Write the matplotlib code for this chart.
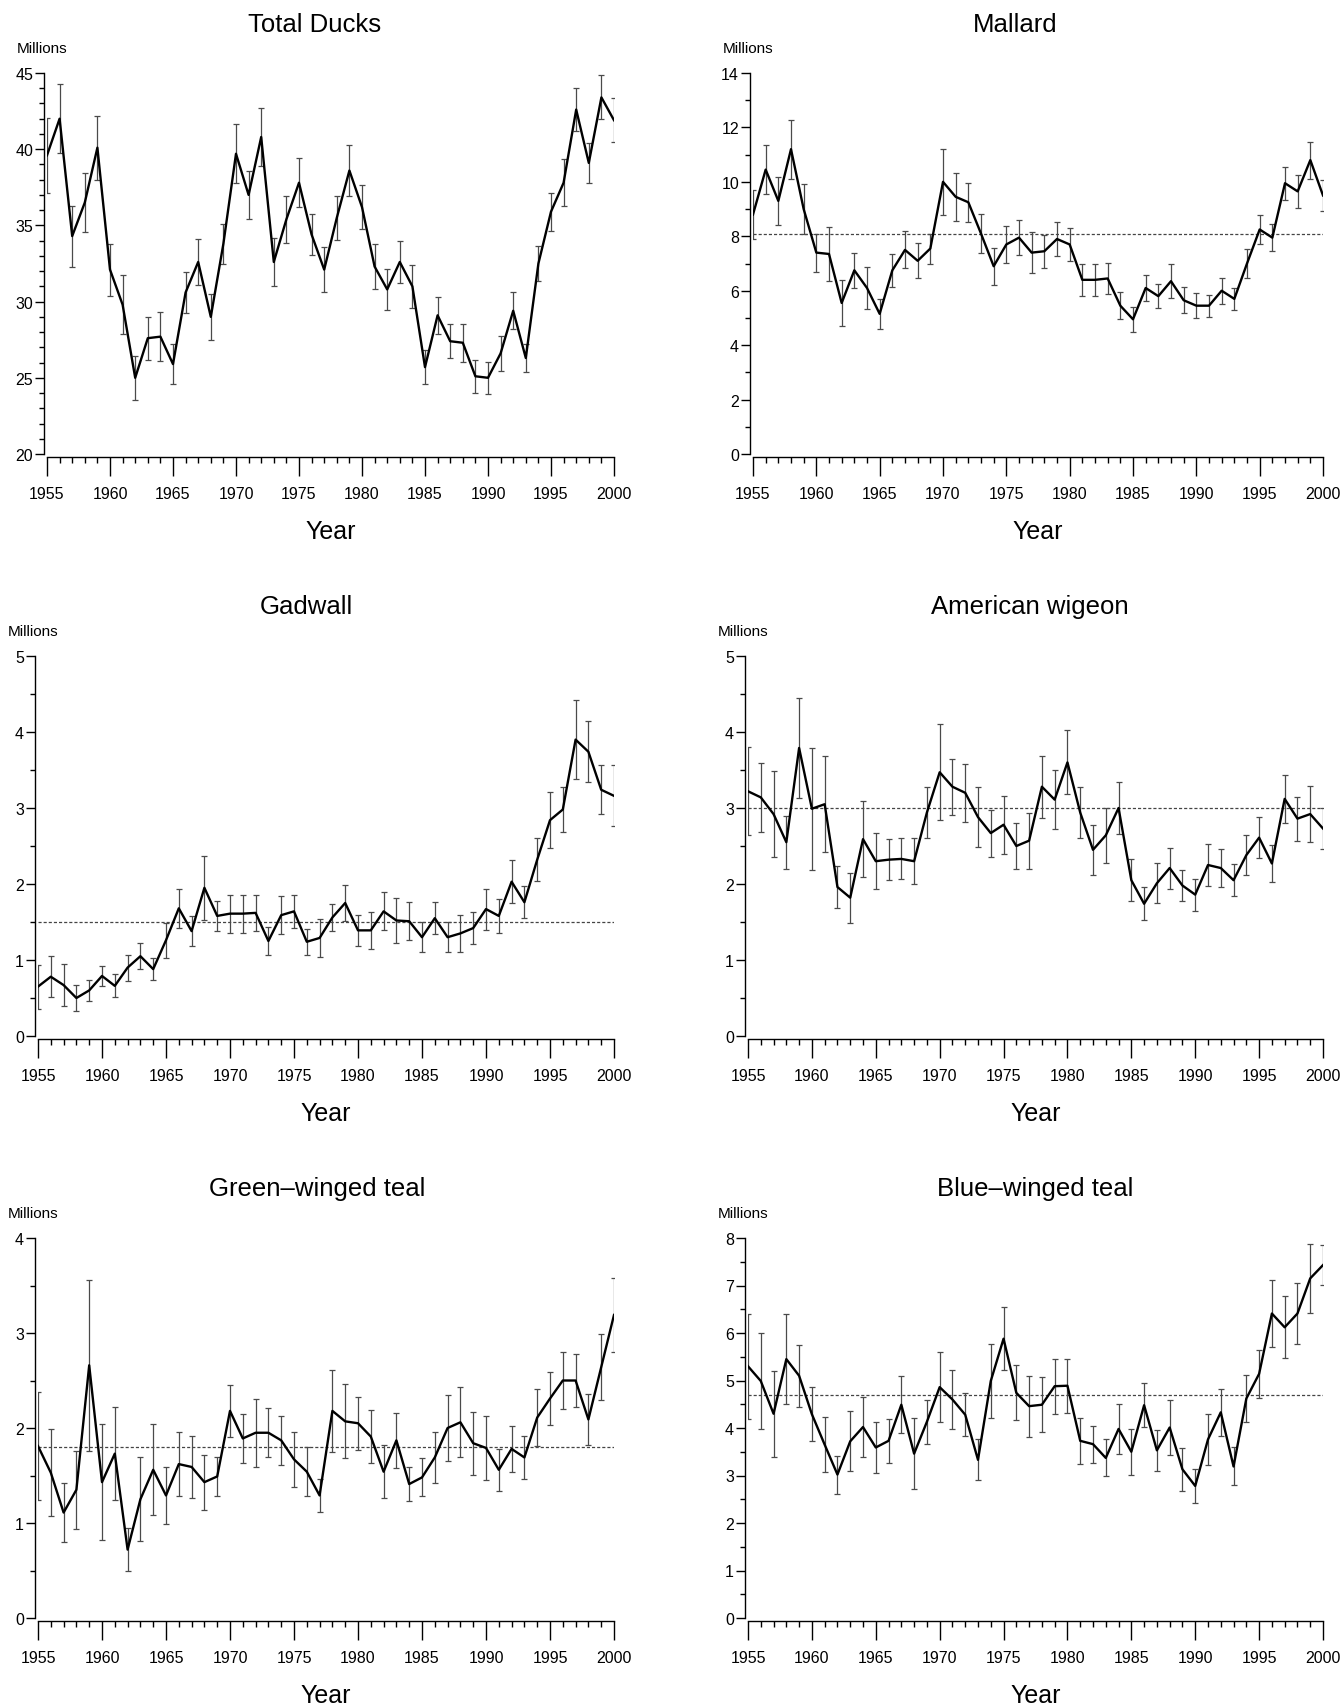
import numpy as np
import matplotlib
matplotlib.use('agg')
import matplotlib.pyplot as plt
from matplotlib.ticker import MultipleLocator

plt.rcParams['font.family'] = ['Liberation Sans Narrow', 'Liberation Sans', 'DejaVu Sans']

years = np.arange(1955, 2001)

########## breeding population estimates (millions)
total = [39.6, 42.0, 34.3, 36.5, 40.1, 32.1, 29.8, 25.0, 27.6, 27.7,
         25.9, 30.6, 32.6, 29.0, 33.8, 39.7, 37.0, 40.8, 32.6, 35.4,
         37.8, 34.4, 32.1, 35.5, 38.6, 36.2, 32.3, 30.8, 32.6, 31.0,
         25.7, 29.1, 27.4, 27.3, 25.1, 25.0, 26.6, 29.4, 26.3, 32.5,
         35.9, 37.8, 42.6, 39.1, 43.4, 41.9]
total_err = [2.45, 2.25, 2.0, 1.95, 2.1, 1.7, 1.95, 1.45, 1.4, 1.6,
             1.3, 1.35, 1.5, 1.5, 1.3, 1.95, 1.6, 1.9, 1.6, 1.55,
             1.6, 1.35, 1.45, 1.45, 1.65, 1.45, 1.45, 1.35, 1.4, 1.4,
             1.1, 1.2, 1.1, 1.25, 1.1, 1.05, 1.15, 1.2, 0.95, 1.15,
             1.25, 1.55, 1.4, 1.3, 1.45, 1.45]

mallard = [8.8, 10.45, 9.3, 11.2, 9.0, 7.4, 7.35, 5.55, 6.75, 6.1,
           5.15, 6.75, 7.5, 7.1, 7.55, 10.0, 9.45, 9.25, 8.1, 6.9,
           7.7, 7.95, 7.4, 7.45, 7.9, 7.7, 6.4, 6.4, 6.45, 5.45,
           4.95, 6.1, 5.8, 6.35, 5.65, 5.45, 5.45, 6.0, 5.7, 7.0,
           8.25, 7.95, 9.95, 9.65, 10.8, 9.5]
mallard_err = [0.9, 0.9, 0.88, 1.08, 0.92, 0.7, 1.0, 0.85, 0.65, 0.77,
               0.55, 0.6, 0.68, 0.65, 0.55, 1.2, 0.88, 0.72, 0.72, 0.68,
               0.68, 0.65, 0.75, 0.6, 0.62, 0.6, 0.6, 0.6, 0.57, 0.5,
               0.45, 0.48, 0.43, 0.62, 0.48, 0.45, 0.4, 0.48, 0.4, 0.55,
               0.55, 0.5, 0.6, 0.6, 0.68, 0.58]
mallard_avg = 8.1

gadwall = [0.65, 0.78, 0.67, 0.5, 0.6, 0.79, 0.66, 0.9, 1.05, 0.88,
           1.26, 1.68, 1.38, 1.95, 1.58, 1.61, 1.61, 1.62, 1.25, 1.59,
           1.64, 1.24, 1.29, 1.56, 1.75, 1.39, 1.39, 1.64, 1.52, 1.51,
           1.3, 1.55, 1.3, 1.35, 1.42, 1.67, 1.58, 2.03, 1.76, 2.32,
           2.84, 2.98, 3.9, 3.74, 3.24, 3.16]
gadwall_err = [0.29, 0.27, 0.28, 0.17, 0.14, 0.13, 0.15, 0.17, 0.17, 0.14,
               0.23, 0.26, 0.2, 0.42, 0.2, 0.25, 0.25, 0.24, 0.18, 0.25,
               0.22, 0.17, 0.25, 0.18, 0.24, 0.2, 0.24, 0.25, 0.29, 0.25,
               0.2, 0.21, 0.2, 0.24, 0.21, 0.27, 0.22, 0.28, 0.21, 0.28,
               0.37, 0.3, 0.52, 0.4, 0.32, 0.4]
gadwall_avg = 1.5

wigeon = [3.22, 3.14, 2.92, 2.55, 3.79, 2.99, 3.05, 1.96, 1.82, 2.59,
          2.3, 2.32, 2.33, 2.3, 2.94, 3.47, 3.28, 3.2, 2.88, 2.67,
          2.78, 2.5, 2.57, 3.28, 3.11, 3.6, 2.94, 2.45, 2.64, 3.0,
          2.05, 1.74, 2.01, 2.21, 1.98, 1.86, 2.25, 2.21, 2.05, 2.38,
          2.61, 2.27, 3.12, 2.86, 2.92, 2.73]
wigeon_err = [0.58, 0.45, 0.57, 0.35, 0.66, 0.8, 0.63, 0.28, 0.33, 0.5,
              0.37, 0.27, 0.27, 0.3, 0.33, 0.63, 0.37, 0.38, 0.39, 0.31,
              0.38, 0.3, 0.37, 0.41, 0.39, 0.42, 0.34, 0.33, 0.36, 0.34,
              0.28, 0.22, 0.26, 0.27, 0.21, 0.21, 0.27, 0.25, 0.21, 0.26,
              0.27, 0.24, 0.32, 0.29, 0.37, 0.27]
wigeon_avg = 3.0

gw_teal = [1.81, 1.53, 1.11, 1.35, 2.66, 1.43, 1.73, 0.72, 1.25, 1.56,
           1.29, 1.62, 1.59, 1.43, 1.49, 2.18, 1.89, 1.95, 1.95, 1.87,
           1.67, 1.54, 1.29, 2.18, 2.07, 2.05, 1.91, 1.54, 1.87, 1.41,
           1.48, 1.69, 2.0, 2.06, 1.84, 1.79, 1.56, 1.78, 1.69, 2.11,
           2.31, 2.5, 2.5, 2.09, 2.64, 3.19]
gw_teal_err = [0.57, 0.46, 0.31, 0.41, 0.9, 0.61, 0.49, 0.23, 0.44, 0.48,
               0.3, 0.34, 0.33, 0.29, 0.21, 0.27, 0.26, 0.36, 0.26, 0.26,
               0.29, 0.26, 0.17, 0.43, 0.39, 0.28, 0.28, 0.28, 0.29, 0.18,
               0.2, 0.27, 0.35, 0.37, 0.33, 0.34, 0.22, 0.24, 0.23, 0.3,
               0.28, 0.3, 0.28, 0.27, 0.35, 0.39]
gw_teal_avg = 1.8

bw_teal = [5.3, 4.99, 4.3, 5.45, 5.1, 4.29, 3.65, 3.02, 3.72, 4.02,
           3.59, 3.73, 4.49, 3.46, 4.13, 4.86, 4.6, 4.28, 3.33, 4.99,
           5.88, 4.74, 4.46, 4.49, 4.88, 4.89, 3.73, 3.66, 3.37, 3.98,
           3.5, 4.48, 3.53, 4.01, 3.13, 2.78, 3.76, 4.33, 3.19, 4.62,
           5.14, 6.41, 6.12, 6.41, 7.15, 7.43]
bw_teal_err = [1.1, 1.02, 0.91, 0.95, 0.65, 0.57, 0.58, 0.4, 0.63, 0.63,
               0.53, 0.46, 0.6, 0.75, 0.46, 0.73, 0.63, 0.45, 0.43, 0.77,
               0.66, 0.58, 0.64, 0.58, 0.58, 0.57, 0.48, 0.39, 0.39, 0.52,
               0.48, 0.46, 0.43, 0.57, 0.45, 0.35, 0.53, 0.5, 0.4, 0.5,
               0.5, 0.7, 0.65, 0.65, 0.72, 0.42]
bw_teal_avg = 4.7

#########################################################################

W, H = 1343, 1708
fig = plt.figure(figsize=(W / 100, H / 100), dpi=100)
fig.patch.set_facecolor('white')

# title, values, errors, average, ylim, major, minor, (left, right, top, bottom) px, title centre px
panels = [
    ('Total Ducks', total, total_err, None, (20, 45), 5, 1, (47, 614, 74, 455), (315, 25)),
    ('Mallard', mallard, mallard_err, mallard_avg, (0, 14), 2, 1, (753, 1323, 74, 455), (1015, 25)),
    ('Gadwall', gadwall, gadwall_err, gadwall_avg, (0, 5), 1, 0.5, (38, 614, 657, 1037), (306, 607)),
    ('American wigeon', wigeon, wigeon_err, wigeon_avg, (0, 5), 1, 0.5, (748, 1323, 657, 1037), (1030, 607)),
    ('Green\u2013winged teal', gw_teal, gw_teal_err, gw_teal_avg, (0, 4), 1, 0.5, (38, 614, 1239, 1619), (317, 1189)),
    ('Blue\u2013winged teal', bw_teal, bw_teal_err, bw_teal_avg, (0, 8), 1, 0.5, (748, 1323, 1239, 1619), (1035, 1189)),
]

for title, vals, err, avg, ylim, major, minor, box, tpos in panels:
    left, right, top, bottom = box
    ax = fig.add_axes([left / W, 1 - bottom / H, (right - left) / W, (bottom - top) / H])

    ax.errorbar(years, vals, yerr=err, fmt='none', ecolor='#4a4a4a',
                elinewidth=0.9, capsize=2.3, capthick=0.9, zorder=2)
    ax.plot(years, vals, color='black', lw=1.7, zorder=3)
    if avg is not None:
        ax.axhline(avg, color='#444444', lw=0.9, ls=(0, (2.5, 1.6)), zorder=1)

    ax.set_xlim(1955, 2000)
    ax.set_ylim(*ylim)
    ax.xaxis.set_major_locator(MultipleLocator(5))
    ax.xaxis.set_minor_locator(MultipleLocator(1))
    ax.yaxis.set_major_locator(MultipleLocator(major))
    ax.yaxis.set_minor_locator(MultipleLocator(minor))

    ax.tick_params(axis='x', which='major', length=13.5, width=1, labelsize=11.5, pad=7.5)
    ax.tick_params(axis='x', which='minor', length=4.5, width=1)
    ax.tick_params(axis='y', which='major', length=6.5, width=1, labelsize=11.5, pad=1.5)
    ax.tick_params(axis='y', which='minor', length=3.5, width=1)

    for s in ['top', 'right']:
        ax.spines[s].set_visible(False)
    for s in ['left', 'bottom']:
        ax.spines[s].set_linewidth(1)
        ax.spines[s].set_position(('outward', 2))

    ax.set_xlabel('Year', fontsize=18, labelpad=13)
    fig.text(tpos[0] / W, 1 - tpos[1] / H, title, ha='center', va='center', fontsize=18.5)
    fig.text((left - 30) / W, 1 - (top - 25) / H, 'Millions', ha='left', va='center', fontsize=11)

fig.savefig('out.png', dpi=100, facecolor='white')
